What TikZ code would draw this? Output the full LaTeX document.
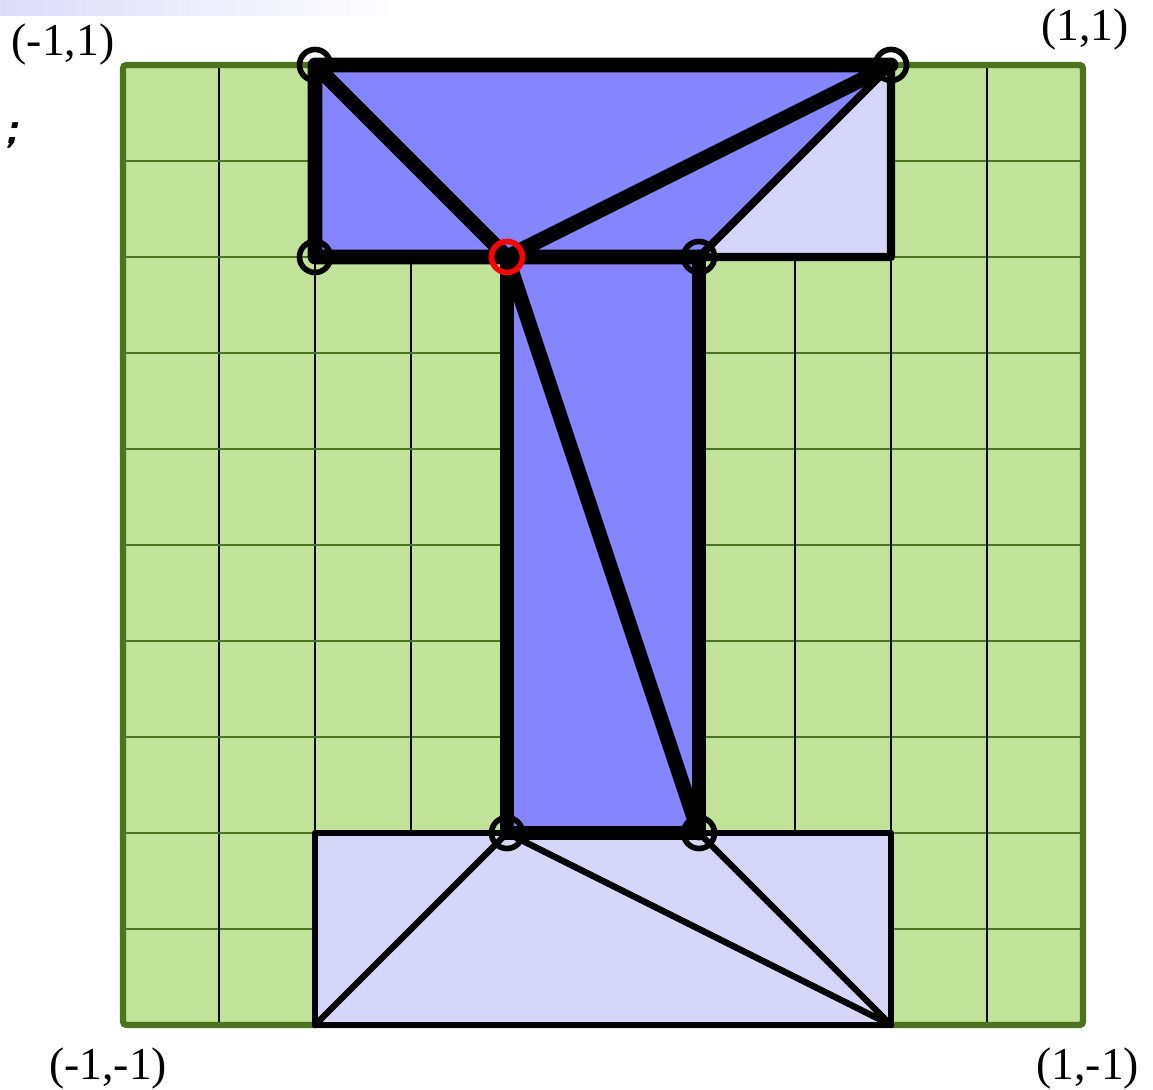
\documentclass[tikz,border=0pt]{standalone}
\usepackage{fontspec}
\setmainfont{Liberation Serif}
\definecolor{gridgreen}{RGB}{192,227,153}
\definecolor{bordergreen}{RGB}{76,115,30}
\definecolor{darkblue}{RGB}{133,133,255}
\definecolor{lightblue}{RGB}{214,214,250}
\definecolor{barblue}{RGB}{220,220,250}
\tikzset{
	vertex/.style={circle, draw, line width=1.6pt, minimum size=0.31cm, inner sep=0pt},
	fat/.style={line width=4.2pt, line cap=round, line join=round},
	mid/.style={line width=2.3pt, line cap=round, line join=round},
	slim/.style={line width=1.8pt, line cap=round, line join=round},
	corner/.style={font=\fontsize{13}{15}\selectfont, inner sep=1pt}
}
\begin{document}
\begin{tikzpicture}[scale=4.8, >=stealth]
				\useasboundingbox (-1.25625,-1.13333) rectangle (1.14583,1.13542);
				\shade[left color=barblue, right color=white] (-1.25625,1.10208) rectangle (-0.42,1.13542);
				% mesh points
				\coordinate (A) at (-0.6,1);
				\coordinate (B) at (0.6,1);
				\coordinate (C) at (-0.6,0.6);
				\coordinate (D) at (-0.2,0.6);
				\coordinate (E) at (0.2,0.6);
				\coordinate (F) at (0.6,0.6);
				\coordinate (G) at (-0.2,-0.6);
				\coordinate (H) at (0.2,-0.6);
				\coordinate (I) at (-0.6,-0.6);
				\coordinate (J) at (0.6,-0.6);
				\coordinate (K) at (-0.6,-1);
				\coordinate (L) at (0.6,-1);
				% background square
				\fill[gridgreen] (-1,-1) rectangle (1,1);
				\foreach \t in {-0.8,-0.6,...,0.85} {
					\draw[bordergreen, line width=0.6pt] (-1,\t) -- (1,\t);
					\draw[black, line width=0.6pt] (\t,-1) -- (\t,1);
				}
				\draw[bordergreen, line width=1.8pt, rounded corners=1pt] (-1,-1) rectangle (1,1);
				% filled triangles
				\fill[darkblue] (A) -- (B) -- (E) -- (D) -- (C) -- cycle;
				\fill[darkblue] (D) -- (E) -- (H) -- (G) -- cycle;
				\fill[lightblue] (B) -- (F) -- (E) -- cycle;
				\fill[lightblue] (I) -- (J) -- (L) -- (K) -- cycle;
				% bottom bar
				\draw[slim] (I) -- (J) -- (L) -- (K) -- cycle;
				\draw[slim] (K) -- (G) -- (L) -- (H);
				% top right corner
				\draw[mid] (B) -- (E) -- (F) -- cycle;
				% thick edges
				\draw[fat] (A) -- (B) -- (D) -- (A) -- (C) -- (D) -- (E);
				\draw[fat] (D) -- (G) -- (H) -- (E);
				\draw[fat] (D) -- (H);
				% vertices
				\node[vertex] (vA) at (A) {};
				\node[vertex] (vB) at (B) {};
				\node[vertex] (vC) at (C) {};
				\node[vertex, draw=red] (vD) at (D) {};
				\node[vertex] (vE) at (E) {};
				\node[vertex] (vG) at (G) {};
				\node[vertex] (vH) at (H) {};
				% corner labels
				\node[corner] (nw) at (-1.125,1.042) {(-1,1)};
				\node[corner] (ne) at (1.004,1.073) {(1,1)};
				\node[corner] (sw) at (-1.031,-1.090) {(-1,-1)};
				\node[corner] (se) at (1.010,-1.090) {(1,-1)};
				\node[corner, font=\fontsize{13}{15}\sffamily\itshape\bfseries] (semi) at (-1.233,0.854) {;};
			\end{tikzpicture}
\end{document}
